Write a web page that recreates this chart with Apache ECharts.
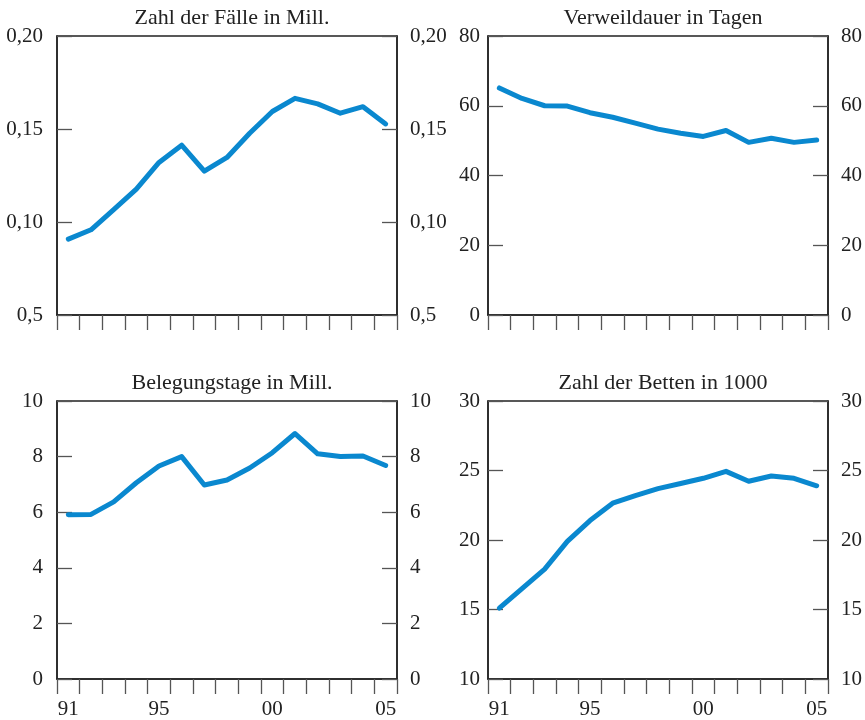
<!DOCTYPE html>
<html><head><meta charset="utf-8">
<script src="https://cdn.jsdelivr.net/npm/echarts@6/dist/echarts.min.js"></script>
<style>html,body{margin:0;padding:0;background:#fff}#c{width:865px;height:720px}</style>
</head><body><div id="c"></div>
<script>
var years = ['91','92','93','94','95','96','97','98','99','00','01','02','03','04','05'];
var shownYears = ['91','95','00','05'];
var titles = ['Zahl der Fälle in Mill.','Verweildauer in Tagen','Belegungstage in Mill.','Zahl der Betten in 1000'];
var faelle = [0.0908,0.0958,0.1066,0.1177,0.132,0.1413,0.1273,0.1347,0.1477,0.1594,0.1665,0.1635,0.1585,0.162,0.1527];
var verweildauer = [65.1,62.1,60.0,59.9,58.0,56.7,55.0,53.3,52.1,51.2,52.9,49.5,50.7,49.5,50.2];
var belegungstage = [5.91,5.92,6.37,7.06,7.66,8.0,6.98,7.16,7.59,8.14,8.83,8.10,8.0,8.02,7.68];
var betten = [15.1,16.5,17.9,19.9,21.4,22.65,23.2,23.7,24.06,24.44,24.94,24.23,24.6,24.44,23.9];
var faelleTicks = ['0,5','0,10','0,15','0,20'];
var verweilTicks = ['0','20','40','60','80'];
var belegTicks = ['0','2','4','6','8','10'];
var bettenTicks = ['10','15','20','25','30'];

var panels = [
  {data: faelle, min: 0.05, max: 0.20, interval: 0.05, ticks: faelleTicks, left: 57, top: 36, h: 279, xl: false, lm: 14},
  {data: verweildauer, min: 0, max: 80, interval: 20, ticks: verweilTicks, left: 488, top: 36, h: 279, xl: false, lm: 8},
  {data: belegungstage, min: 0, max: 10, interval: 2, ticks: belegTicks, left: 57, top: 401, h: 280, xl: true, lm: 14},
  {data: betten, min: 10, max: 30, interval: 5, ticks: bettenTicks, left: 488, top: 401, h: 280, xl: true, lm: 8}
];
var W = 340;
var font = 'Liberation Serif';
var txt = '#222';
var opt = {animation:false, backgroundColor:'#fff', title:[], grid:[], xAxis:[], yAxis:[], series:[]};
panels.forEach(function(p, i){
  opt.title.push({text: titles[i], left: p.left + W/2, top: p.top - 34, textAlign: 'center',
    textStyle:{fontFamily: font, fontSize: 22, fontWeight: 'normal', color: txt}});
  opt.grid.push({left: p.left, top: p.top, width: W, height: p.h, show: true, borderColor: '#222', borderWidth: 1.5, backgroundColor: 'transparent'});
  opt.xAxis.push({type:'category', gridIndex:i, data: years, boundaryGap:true,
    axisLine:{show:true, lineStyle:{color:'#222', width:1.5}},
    axisTick:{show:true, interval:0, length:15, lineStyle:{color:'#555', width:1.3}},
    axisLabel:{show:p.xl, margin:20, fontFamily:font, fontSize:21, color:txt,
      interval:function(idx, v){ return shownYears.indexOf(v) >= 0; }},
    splitLine:{show:false}});
  var tk = p.ticks;
  var fmt = function(v, idx){ return tk[idx]; };
  opt.yAxis.push({type:'value', gridIndex:i, position:'left', min:p.min, max:p.max, interval:p.interval,
    axisLine:{show:true, lineStyle:{color:'#222', width:1.5}},
    axisTick:{show:true, inside:true, length:15, lineStyle:{color:'#555', width:1.3}},
    axisLabel:{margin:p.lm, fontFamily:font, fontSize:21, color:txt, formatter: fmt},
    splitLine:{show:false}});
  opt.yAxis.push({type:'value', gridIndex:i, position:'right', min:p.min, max:p.max, interval:p.interval,
    axisLine:{show:true, lineStyle:{color:'#222', width:1.5}},
    axisTick:{show:true, inside:true, length:15, lineStyle:{color:'#555', width:1.3}},
    axisLabel:{margin:13, fontFamily:font, fontSize:21, color:txt, formatter: fmt},
    splitLine:{show:false}});
  opt.series.push({type:'line', xAxisIndex:i, yAxisIndex:2*i, data:p.data, symbol:'none', smooth:false,
    lineStyle:{color:'#0a88cf', width:5, cap:'round', join:'round'}});
});
var chart = echarts.init(document.getElementById('c'), null, {renderer:'canvas'});
chart.setOption(opt);
</script>
</body></html>
